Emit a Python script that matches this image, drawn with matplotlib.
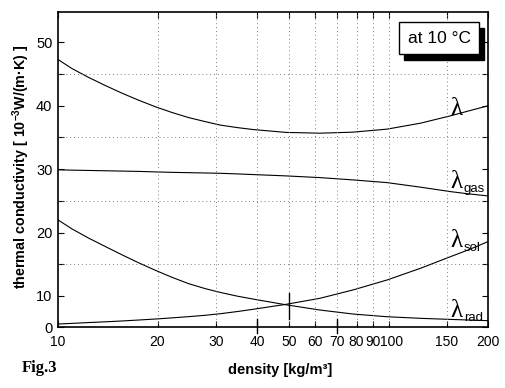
import matplotlib
matplotlib.use('Agg')
import matplotlib.pyplot as plt
import matplotlib.transforms as mtransforms
from matplotlib.patches import Rectangle
from matplotlib.ticker import FixedLocator, NullLocator

plt.rcParams['font.family'] = ['Liberation Sans', 'DejaVu Sans']
plt.rcParams['mathtext.fontset'] = 'custom'
plt.rcParams['mathtext.rm'] = 'Liberation Sans:bold'
plt.rcParams['mathtext.bf'] = 'Liberation Sans:bold'

# values
density = [10, 11, 12.35, 13.9, 15.6, 17.5, 19.7, 22.1, 24.8, 27.9, 31, 35, 39, 49, 62, 78, 99, 125, 154, 175, 200]
lam_total = [47.3, 45.9, 44.5, 43.2, 42.0, 40.9, 39.85, 38.95, 38.15, 37.5, 36.95, 36.55, 36.25, 35.8,
             35.68, 35.84, 36.32, 37.26, 38.42, 39.2, 40.0]
lam_gas = [29.9, 29.85, 29.8, 29.75, 29.7, 29.65, 29.57, 29.5, 29.45, 29.4, 29.35, 29.25, 29.15, 28.94,
           28.67, 28.31, 27.88, 27.16, 26.46, 26.1, 25.78]
lam_sol = [5.57, 5.67, 5.8, 5.92, 6.05, 6.2, 6.36, 6.54, 6.73, 6.95, 7.2, 7.55, 7.9, 8.68,
           9.63, 10.94, 12.52, 14.37, 16.2, 17.3, 18.57]
lam_rad = [22.0, 20.6, 19.15, 17.8, 16.5, 15.25, 14.05, 12.95, 11.95, 11.15, 10.55, 9.95, 9.5, 8.6,
           7.78, 7.15, 6.72, 6.47, 6.3, 6.2, 6.1]

curve_names = ['', 'gas', 'sol', 'rad']
label_x = [154, 154, 154, 154]
label_y = [38.6, 27.0, 17.8, 6.7]

xticks = [10, 20, 30, 40, 50, 60, 70, 80, 90, 100, 150, 200]
xtick_labels = ['10', '20', '30', '40', '50', '60', '70', '80', '90', '100', '150', '200']
ylims = (5.1, 54.8)
yticks = [ylims[0], 10, 20, 30, 40, 50]
ytick_labels = ['0', '10', '20', '30', '40', '50']
ygrid = [15, 25, 35, 45]
tall_ticks = [40, 70]
cross_at = 50
cross_span = (6.4, 10.4)

fig = plt.figure(figsize=(5.05, 3.88), dpi=100)
ax = fig.add_axes([0.1149, 0.1572, 0.8515, 0.8119])

for ys in [lam_total, lam_gas, lam_sol, lam_rad]:
    ax.plot(density, ys, color='black', lw=0.8)

ax.set_xscale('log')
ax.set_xlim(10, 200)
ax.set_ylim(*ylims)

ax.xaxis.set_major_locator(FixedLocator(xticks))
ax.xaxis.set_minor_locator(NullLocator())
ax.set_xticklabels(xtick_labels)
ax.set_yticks(yticks)
ax.set_yticklabels(ytick_labels)
ax.yaxis.set_minor_locator(FixedLocator(ygrid))

ax.tick_params(axis='both', which='both', direction='in', top=True, right=True,
               length=4, width=0.8, labelsize=10.5)
ax.tick_params(axis='x', pad=6, labelsize=10)
ax.tick_params(axis='y', pad=4)

# nudge the crowded "100" label a little to the right
lbl100 = ax.get_xticklabels()[xtick_labels.index('100')]
lbl100.set_transform(lbl100.get_transform() + mtransforms.ScaledTranslation(2 / 72, 0, fig.dpi_scale_trans))

# dotted grid
for xv in xticks[1:-1]:
    ax.axvline(xv, color='0.5', lw=0.7, ls=(0, (1, 3)))
for yv in ygrid:
    ax.axhline(yv, color='0.5', lw=0.7, ls=(0, (1, 3)))

for sp in ax.spines.values():
    sp.set_linewidth(1.2)

# tall tick marks and crossing marker
xt = ax.get_xaxis_transform()
for xv in tall_ticks:
    ax.plot([xv, xv], [-0.02, 0.025], color='black', lw=1.0, transform=xt, clip_on=False)
ax.plot([cross_at, cross_at], cross_span, color='black', lw=1.0)

# curve labels
serif = ['Liberation Serif', 'DejaVu Serif']
for name, lx, ly in zip(curve_names, label_x, label_y):
    ax.annotate('λ', (lx, ly), fontsize=18, family=serif, ha='left', va='baseline')
    if name:
        ax.annotate(name, (lx, ly), xytext=(9.5, -3), textcoords='offset points',
                    fontsize=9.5, ha='left', va='baseline')

# "at 10 °C" box with shadow
ax.add_patch(Rectangle((0.805, 0.848), 0.186, 0.102, transform=ax.transAxes,
                       facecolor='black', edgecolor='black', zorder=5, clip_on=False))
ax.add_patch(Rectangle((0.793, 0.867), 0.186, 0.101, transform=ax.transAxes,
                       facecolor='white', edgecolor='black', lw=1.0, zorder=6))
ax.text(0.886, 0.917, 'at 10 °C', transform=ax.transAxes, fontsize=12.5,
        ha='center', va='center', zorder=7)

ax.set_ylabel(r'thermal conductivity [ 10$^{\mathbf{-3}}$W/(m·K) ]', fontsize=10.3,
              fontweight='bold')
ax.yaxis.set_label_coords(-0.06, 0.51)
ax.set_xlabel('density [kg/m³]', fontsize=10.5, fontweight='bold')
ax.xaxis.set_label_coords(0.516, -0.113)
fig.text(0.044, 0.042, 'Fig.3', fontsize=12, fontweight='bold', family=serif)

fig.savefig('out.png', dpi=100, facecolor='white')
